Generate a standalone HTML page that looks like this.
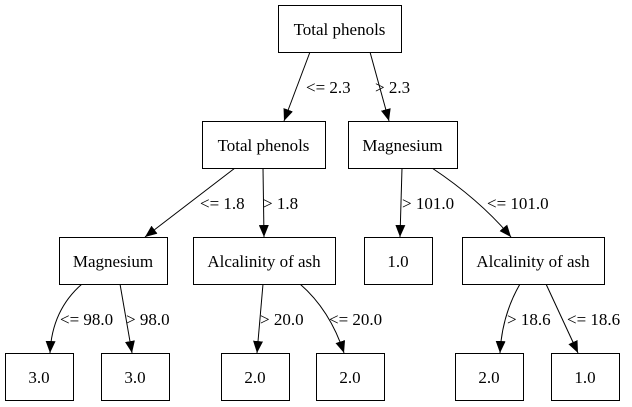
<!DOCTYPE html>
<html><head><meta charset="utf-8"><style>
html,body{margin:0;padding:0;background:#fff;}
svg{display:block;font-family:"Liberation Serif","DejaVu Serif",serif;}
</style></head><body>
<svg id="tree" width="632" height="407" viewBox="0 0 632 407" xmlns="http://www.w3.org/2000/svg">
<defs><marker id="ah" markerWidth="12" markerHeight="10" refX="12" refY="5" orient="auto" markerUnits="userSpaceOnUse"><path d="M0,0 L12,5 L0,10 Z" fill="#000"/></marker></defs>
</svg>
<script>
const nodeLabels=["Total phenols","Total phenols","Magnesium","Magnesium","Alcalinity of ash","1.0","Alcalinity of ash","3.0","3.0","2.0","2.0","2.0","1.0"];
const nodeBoxes=[[278,5,123],[202,121,123],[348,121,109],[59,237,108],[193,237,142],[364,237,68],[462,237,142],[5,353,68],[101,353,68],[221,353,68],[316,353,68],[455,353,68],[551,353,68]];
const edgeFrom=[0,0,1,1,2,2,3,3,4,4,6,6];
const edgeTo=[1,2,3,4,5,6,7,8,9,10,11,12];
const edgeLabels=["<= 2.3","> 2.3","<= 1.8","> 1.8","> 101.0","<= 101.0","<= 98.0","> 98.0","> 20.0","<= 20.0","> 18.6","<= 18.6"];
const edgePaths=[
"M310,52 L284,121","M370,52 L389,121","M235,168 L145,237","M263,168 L264,237",
"M402,168 L400,237","M432,168 Q480,200 511,237","M82,284 Q52,310 50,353","M120,284 L132,353",
"M263,284 L257,353","M300,284 Q330,310 344,353","M520,284 Q502,315 500,353","M546,284 L578,353"];
const labelPos=[[306,93],[375,93],[200,209],[263,209],[402,209],[487,209],[60,325],[126,325],[260,325],[329,325],[507,325],[567,325]];
const svg=document.getElementById('tree');
const NS="http://www.w3.org/2000/svg";
edgeFrom.forEach((f,i)=>{
  const p=document.createElementNS(NS,'path');
  p.setAttribute('d',edgePaths[i]);p.setAttribute('fill','none');p.setAttribute('stroke','#000');p.setAttribute('marker-end','url(#ah)');
  
  
  svg.appendChild(p);
  const t=document.createElementNS(NS,'text');
  t.setAttribute('x',labelPos[i][0]);t.setAttribute('y',labelPos[i][1]);t.setAttribute('font-size','17');
  t.textContent=edgeLabels[i];
  
  
  svg.appendChild(t);
});
nodeLabels.forEach((l,i)=>{
  const b=nodeBoxes[i];
  const g=document.createElementNS(NS,'g');
  
  
  const r=document.createElementNS(NS,'rect');
  r.setAttribute('x',b[0]+0.5);r.setAttribute('y',b[1]+0.5);r.setAttribute('width',b[2]);r.setAttribute('height',47);
  r.setAttribute('fill','#fff');r.setAttribute('stroke','#000');
  g.appendChild(r);
  const t=document.createElementNS(NS,'text');
  t.setAttribute('x',b[0]+b[2]/2);t.setAttribute('y',b[1]+30);t.setAttribute('text-anchor','middle');t.setAttribute('font-size','17');
  t.textContent=l;
  g.appendChild(t);
  svg.appendChild(g);
});
</script>
</body></html>
